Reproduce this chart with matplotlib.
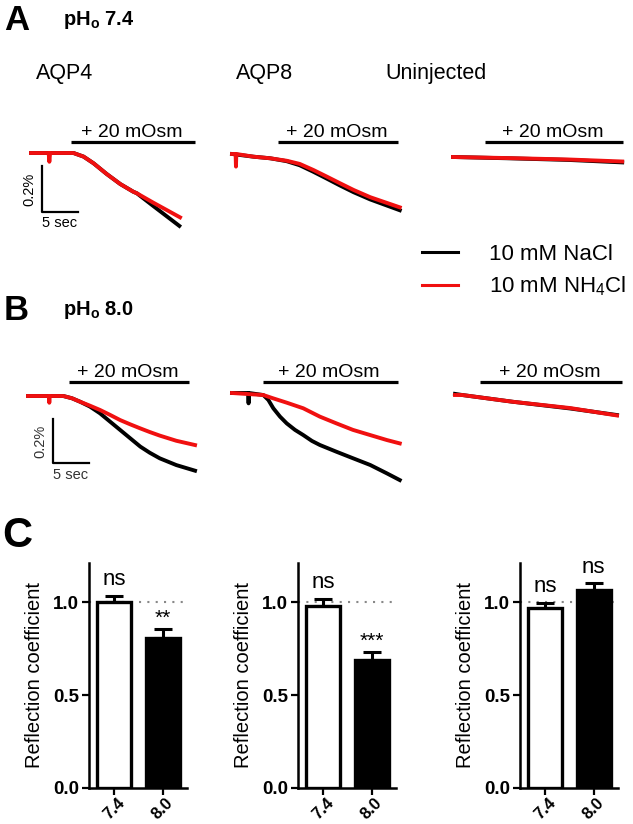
import matplotlib
matplotlib.use('Agg')
import matplotlib.pyplot as plt
from matplotlib.lines import Line2D

plt.rcParams['font.family'] = ['Liberation Sans', 'DejaVu Sans']
plt.rcParams['mathtext.fontset'] = 'custom'
plt.rcParams['mathtext.rm'] = 'Liberation Sans'
plt.rcParams['mathtext.bf'] = 'Liberation Sans:bold'

# ---- traces: time (s) and relative volume change (%) ----
# A, pHo 7.4
a_aqp4_t = [0, 5.9, 7.3, 8.7, 10.5, 12.4, 14.2, 14.7, 17.0, 20.6]
a_aqp4_nacl = [0, 0, -0.016, -0.046, -0.093, -0.138, -0.172, -0.179, -0.236, -0.324]
a_aqp4_nh4_t = [0, 2.45, 2.55, 2.65, 5.9, 7.3, 8.7, 10.5, 12.4, 14.2, 14.7, 17.0, 20.7]
a_aqp4_nh4 = [0, 0, -0.039, 0, 0, -0.016, -0.046, -0.093, -0.138, -0.172, -0.179, -0.221, -0.286]

a_aqp8_t = [0, 3.0, 5.3, 7.6, 9.4, 11.3, 13.2, 15.0, 16.9, 19.2, 23.3]
a_aqp8_nacl = [0, -0.012, -0.019, -0.032, -0.05, -0.079, -0.11, -0.14, -0.17, -0.202, -0.25]
a_aqp8_nh4_t = [0, 0.5, 0.55, 0.6, 3.0, 5.3, 7.6, 9.4, 11.3, 13.2, 15.0, 16.9, 19.2, 23.3]
a_aqp8_nh4 = [0, 0, -0.056, 0, -0.012, -0.019, -0.03, -0.044, -0.071, -0.101, -0.13, -0.16, -0.192, -0.237]

a_unin_t = [0, 8, 16, 23.5]
a_unin_nacl = [0, -0.006, -0.013, -0.024]
a_unin_nh4 = [0, -0.005, -0.011, -0.02]

# B, pHo 8.0
b_aqp4_t = [0, 4.9, 6.1, 7.2, 8.6, 10.0, 11.4, 12.8, 14.2, 15.6, 16.9, 18.3, 20.6, 23.2]
b_aqp4_nacl = [0, 0, -0.01, -0.025, -0.047, -0.077, -0.114, -0.151, -0.188, -0.225,
               -0.252, -0.277, -0.307, -0.332]
b_aqp4_nh4_t = [0, 2.9, 2.96, 3.02, 4.9, 6.1, 7.2, 8.6, 10.0, 11.4, 12.8, 14.2, 15.6,
                16.9, 18.3, 20.6, 23.2]
b_aqp4_nh4 = [0, 0, -0.03, 0, 0, -0.01, -0.025, -0.043, -0.062, -0.084, -0.107, -0.126,
              -0.144, -0.16, -0.176, -0.199, -0.218]

b_aqp8_t = [0, 2.25, 2.3, 2.35, 4.35, 5.05, 5.74, 6.67, 7.6, 8.75, 9.9, 11.1, 12.2,
            14.5, 16.8, 19.2, 21.5, 23.3]
b_aqp8_nacl = [0, 0, -0.046, 0, -0.009, -0.031, -0.068, -0.105, -0.135, -0.164, -0.187,
               -0.213, -0.231, -0.261, -0.29, -0.32, -0.357, -0.387]
b_aqp8_nh4_t = [0, 4.35, 5.74, 7.6, 9.9, 12.2, 14.5, 16.8, 19.2, 21.5, 23.3]
b_aqp8_nh4 = [0, -0.009, -0.024, -0.043, -0.068, -0.105, -0.135, -0.164, -0.187, -0.209, -0.224]

b_unin_t = [0, 1, 8, 16, 22.5]
b_unin_nacl = [0.005, 0, -0.03, -0.06, -0.089]
b_unin_nh4 = [0, 0, -0.03, -0.058, -0.091]

# hypotonic step (start, end) in s
stim_a = [(5.6, 22.8), (6.4, 23.1), (4.4, 23.6)]
stim_b = [(5.7, 22.4), (4.3, 23.1), (3.5, 23.2)]

# ---- C: reflection coefficients ----
ph_labels = ['7.4', '8.0']
aqp4_sigma = [1.0, 0.806]
aqp4_err = [0.035, 0.05]
aqp8_sigma = [0.978, 0.688]
aqp8_err = [0.04, 0.042]
unin_sigma = [0.966, 1.064]
unin_err = [0.03, 0.036]
aqp4_sig = ['ns', '**']
aqp8_sig = ['ns', '***']
unin_sig = ['ns', 'ns']

W, H = 633, 824
PX_S = 7.2      # pixels per second
PX_PCT = 225.0  # pixels per 1 %
T0, T1 = -1.0, 25.0
V0, V1 = -0.45, 0.15
BLACK = '#000000'
RED = '#f01010'
LW = 2.8

fig = plt.figure(figsize=(W / 100, H / 100), dpi=100)


def px_axes(left, top, width, height):
    return fig.add_axes([left / W, 1 - (top + height) / H, width / W, height / H])


def trace_panel(x0, y0, bar_y, t_black, nacl, t_red, nh4, stim):
    ax = px_axes(x0 + T0 * PX_S, y0 - V1 * PX_PCT, (T1 - T0) * PX_S, (V1 - V0) * PX_PCT)
    ax.set_xlim(T0, T1)
    ax.set_ylim(V0, V1)
    ax.axis('off')
    ax.plot(t_black, nacl, color=BLACK, lw=LW, solid_joinstyle='round')
    ax.plot(t_red, nh4, color=RED, lw=LW, solid_joinstyle='round')
    lvl = (y0 - bar_y) / PX_PCT
    ax.plot(stim, [lvl, lvl], color='black', lw=2.3, solid_capstyle='butt', clip_on=False)
    ax.text((stim[0] + stim[1]) / 2 - 0.2, lvl + 0.024, '+ 20 mOsm', ha='center',
            va='baseline', fontsize=14)
    return ax


def scale_bar(ax, t, top, bottom, color='black'):
    ax.plot([t, t, t + 5], [top, bottom, bottom], color='black', lw=1.6, clip_on=False)
    ax.text(t - 0.75, (top + bottom) / 2, '0.2%', rotation=90, ha='right', va='center',
            fontsize=10.5, color=color)
    ax.text(t, bottom - 0.02, '5 sec', ha='left', va='top', fontsize=10.5, color=color)


# ---- A ----
fig.text(4 / W, 1 - 30 / H, 'A', fontsize=25, weight='bold', va='baseline')
fig.text(63 / W, 1 - 25 / H, r'pH$_\mathbf{o}$ 7.4', fontsize=14.5, weight='bold', va='baseline')
for x, name in zip([36, 236, 385], ['AQP4', 'AQP8', 'Uninjected']):
    fig.text(x / W, 1 - 79 / H, name, fontsize=15.5, va='baseline')

ax = trace_panel(31, 153, 142, a_aqp4_t, a_aqp4_nacl, a_aqp4_nh4_t, a_aqp4_nh4, stim_a[0])
scale_bar(ax, 1.55, -0.058, -0.262)
trace_panel(232, 154, 142, a_aqp8_t, a_aqp8_nacl, a_aqp8_nh4_t, a_aqp8_nh4, stim_a[1])
trace_panel(453, 157, 142, a_unin_t, a_unin_nacl, a_unin_t, a_unin_nh4, stim_a[2])

# ---- B ----
fig.text(4 / W, 1 - 320 / H, 'B', fontsize=25, weight='bold', va='baseline')
fig.text(63 / W, 1 - 315 / H, r'pH$_\mathbf{o}$ 8.0', fontsize=14.5, weight='bold', va='baseline')
ax = trace_panel(28, 396, 382, b_aqp4_t, b_aqp4_nacl, b_aqp4_nh4_t, b_aqp4_nh4, stim_b[0])
scale_bar(ax, 3.5, -0.102, -0.298, color='#333333')
trace_panel(232, 393, 382, b_aqp8_t, b_aqp8_nacl, b_aqp8_nh4_t, b_aqp8_nh4, stim_b[1])
trace_panel(455, 395, 382, b_unin_t, b_unin_nacl, b_unin_t, b_unin_nh4, stim_b[2])

fig.legend([Line2D([], [], color=BLACK, lw=2.2), Line2D([], [], color=RED, lw=2.2)],
           ['10 mM NaCl', r'10 mM NH$_\mathrm{4}$Cl'],
           loc='center left', bbox_to_anchor=(422 / W, 1 - 271 / H), frameon=False,
           fontsize=16, handlelength=1.6, handletextpad=1.4, labelspacing=0.45,
           borderpad=0, borderaxespad=0)

# ---- C ----
fig.text(2 / W, 1 - 547 / H, 'C', fontsize=30, weight='bold', va='baseline')


def bar_panel(left, vals, errs, sig):
    ax = px_axes(left, 563, 98, 225)
    x = [0, 1]
    ax.axhline(1.0, color='#888888', lw=1.5, ls=(0, (1, 3)), zorder=0)
    ax.bar(x, vals, width=0.7, color=['white', 'black'], edgecolor='black',
           linewidth=2.4, zorder=2)
    ax.errorbar(x, vals, yerr=[[0, 0], errs], fmt='none', ecolor='black',
                elinewidth=2.2, capsize=6.5, capthick=2.2, zorder=1)
    for xi, v, e, s in zip(x, vals, errs, sig):
        if s == 'ns':
            ax.text(xi, v + e + 0.058, s, ha='center', va='baseline', fontsize=16)
        else:
            ax.text(xi, v + e + 0.005, s, ha='center', va='bottom', fontsize=15)
    ax.set_xlim(-0.52, 1.5)
    ax.set_ylim(0, 1.21)
    ax.set_yticks([0, 0.5, 1.0])
    ax.set_yticklabels(['0.0', '0.5', '1.0'], fontsize=13.5, weight='bold')
    ax.set_xticks(x)
    ax.set_xticklabels(ph_labels, fontsize=12, weight='bold', rotation=45, ha='center')
    ax.tick_params(axis='y', length=5, width=1.6, pad=2)
    ax.tick_params(axis='x', length=5, width=1.6, pad=0.5)
    for side in ['top', 'right']:
        ax.spines[side].set_visible(False)
    for side in ['left', 'bottom']:
        ax.spines[side].set_linewidth(1.8)
    ax.set_ylabel('Reflection coefficient', fontsize=14.5)
    ax.yaxis.set_label_coords(-0.46, 0.5)
    return ax


bar_panel(89, aqp4_sigma, aqp4_err, aqp4_sig)
bar_panel(298, aqp8_sigma, aqp8_err, aqp8_sig)
bar_panel(520, unin_sigma, unin_err, unin_sig)

fig.savefig('out.png', dpi=100)
